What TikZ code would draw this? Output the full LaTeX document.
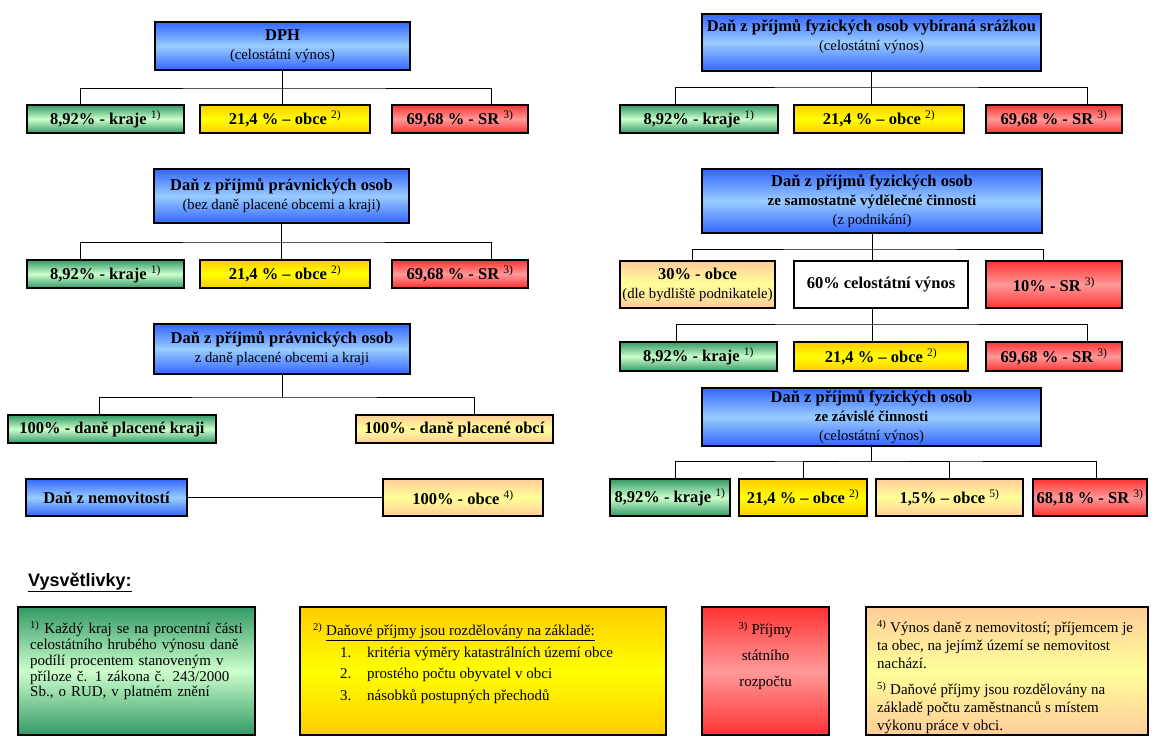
\documentclass[tikz,border=0pt]{standalone}
\usepackage{fontspec}
\setmainfont{Liberation Serif}
\setsansfont{Liberation Sans}
\usetikzlibrary{calc}

\definecolor{blueD}{HTML}{3366FF}
\definecolor{blueL}{HTML}{99CCFF}
\definecolor{greenD}{HTML}{339966}
\definecolor{greenL}{HTML}{CCFFCC}
\definecolor{yellowD}{HTML}{FFCC00}
\definecolor{yellowL}{HTML}{FFFF00}
\definecolor{redD}{HTML}{FF3333}
\definecolor{redL}{HTML}{FF9999}
\definecolor{orangeD}{HTML}{FFCC99}
\definecolor{orangeL}{HTML}{FFFF99}

\newcommand{\pozn}[1]{\textsuperscript{\mdseries#1}}
\newcommand{\podtitul}[1]{{\mdseries\fontsize{14.7}{18}\selectfont#1}}
\newcommand{\podtitulb}[1]{{\fontsize{15}{18}\selectfont#1}}

\tikzset{
    box/.style={draw, line width=1.5pt, inner sep=0pt, align=center, font=\bfseries\fontsize{16.5}{19}\selectfont},
    bluebox/.style={box, top color=blueD, bottom color=blueD, middle color=blueL},
    greenbox/.style={box, top color=greenD, bottom color=greenD, middle color=greenL},
    yellowbox/.style={box, top color=yellowD, bottom color=yellowD, middle color=yellowL},
    redbox/.style={box, top color=redD, bottom color=redD, middle color=redL},
    orangebox/.style={box, top color=orangeD, bottom color=orangeD, middle color=orangeL},
    whitebox/.style={box, fill=white},
    row/.style={minimum height=28pt},
    legtext/.style={inner sep=0pt, font=\mdseries\fontsize{15}{15.8}\selectfont},
    link/.style={line width=1pt},
}

\begin{document}
\begin{tikzpicture}[x=1pt, y=-1pt]
    \useasboundingbox[fill=white] (0,0) rectangle (1158,744);

    \node[bluebox, minimum width=255pt, minimum height=48pt] (dph) at (282.5,46) {DPH\\\podtitul{(celostátní výnos)}};
    \node[greenbox, row, minimum width=157pt] (dph-kr) at (105.5,119) {8,92\% - kraje \pozn{1)}};
    \node[yellowbox, row, minimum width=170pt] (dph-ob) at (285,119) {21,4 \% – obce \pozn{2)}};
    \node[redbox, row, minimum width=136pt] (dph-sr) at (460,119) {69,68 \% - SR \pozn{3)}};
    \coordinate (dph-j) at (282.5,88);
    \draw[link] (dph.south) -- (dph-j);
    \draw[link] ([xshift=54pt]dph-kr.north west) |- (dph-j) -| ([xshift=100pt]dph-sr.north west);
    \draw[link] (dph-j) -- (dph-j |- dph-ob.north);

    \node[bluebox, minimum width=255pt, minimum height=54pt] (ppo) at (281.5,196) {Daň z příjmů právnických osob\\\podtitul{(bez daně placené obcemi a kraji)}};
    \node[greenbox, row, minimum width=157pt] (ppo-kr) at (105.5,274) {8,92\% - kraje \pozn{1)}};
    \node[yellowbox, row, minimum width=170pt] (ppo-ob) at (285,274) {21,4 \% – obce \pozn{2)}};
    \node[redbox, row, minimum width=136pt] (ppo-sr) at (460,274) {69,68 \% - SR \pozn{3)}};
    \coordinate (ppo-j) at (281.5,242);
    \draw[link] (ppo.south) -- (ppo-j);
    \draw[link] ([xshift=54pt]ppo-kr.north west) |- (ppo-j) -| ([xshift=100pt]ppo-sr.north west);
    \draw[link] (ppo-j) -- (ppo-j |- ppo-ob.north);

    \node[bluebox, minimum width=256pt, minimum height=50pt] (ppz) at (282,349) {Daň z příjmů právnických osob\\\podtitul{z daně placené obcemi a kraji}};
    \node[greenbox, row, minimum width=208pt] (ppz-kr) at (112,429) {100\% - daně placené kraji};
    \node[orangebox, row, minimum width=197pt] (ppz-ob) at (454.5,429) {100\% - daně placené obcí};
    \coordinate (ppz-j) at (282,397);
    \draw[link] (ppz.south) -- (ppz-j);
    \draw[link] ([xshift=-13pt]ppz-kr.north) |- (ppz-j) -| ([xshift=19.5pt]ppz-ob.north);

    \node[bluebox, minimum width=161pt, minimum height=37pt] (dnem) at (106.5,497.5) {Daň z nemovitostí};
    \node[orangebox, minimum width=160pt, minimum height=37pt] (dnem-ob) at (463,497.5) {100\% - obce \pozn{4)}};
    \draw[link] (dnem) -- (dnem-ob);

    \node[bluebox, minimum width=339pt, minimum height=57pt, text depth=15pt] (srz) at (871.5,42.5) {Daň z příjmů fyzických osob vybíraná srážkou\\\podtitul{(celostátní výnos)}};
    \node[greenbox, row, minimum width=158pt] (srz-kr) at (699,119) {8,92\% - kraje \pozn{1)}};
    \node[yellowbox, row, minimum width=170pt] (srz-ob) at (879,119) {21,4 \% – obce \pozn{2)}};
    \node[redbox, row, minimum width=136pt] (srz-sr) at (1054,119) {69,68 \% - SR \pozn{3)}};
    \coordinate (srz-j) at (871.5,87);
    \draw[link] (srz.south) -- (srz-j);
    \draw[link] ([xshift=-24pt]srz-kr.north) |- (srz-j) -| ([xshift=33pt]srz-sr.north);
    \draw[link] (srz-j) -- (srz-j |- srz-ob.north);

    \node[bluebox, minimum width=340pt, minimum height=64pt] (sam) at (872,201) {Daň z příjmů fyzických osob\\\podtitulb{ze samostatně výdělečné činnosti}\\\podtitul{(z podnikání)}};
    \node[orangebox, minimum width=155pt, minimum height=47pt] (sam-ob) at (697.5,284.5) {30\% - obce\\\podtitul{(dle bydliště podnikatele)}};
    \node[whitebox, minimum width=174pt, minimum height=47pt] (sam-cv) at (881,284.5) {60\% celostátní výnos};
    \node[redbox, minimum width=136pt, minimum height=47pt] (sam-sr) at (1054,284.5) {10\% - SR \pozn{3)}};
    \coordinate (sam-j) at (872,249);
    \draw[link] (sam.south) -- (sam-j);
    \draw[link] ([xshift=-5.5pt]sam-ob.north) |- (sam-j) -| ([xshift=-11pt]sam-sr.north);
    \draw[link] (sam-j) -- (sam-j |- sam-cv.north);

    \node[greenbox, minimum width=157pt, minimum height=29pt] (cv-kr) at (698.5,356.5) {8,92\% - kraje \pozn{1)}};
    \node[yellowbox, minimum width=174pt, minimum height=29pt] (cv-ob) at (881,356.5) {21,4 \% – obce \pozn{2)}};
    \node[redbox, minimum width=136pt, minimum height=29pt] (cv-sr) at (1054,356.5) {69,68 \% - SR \pozn{3)}};
    \coordinate (cv-j) at (872,324);
    \draw[link] (cv-j |- sam-cv.south) -- (cv-j);
    \draw[link] ([xshift=-22.5pt]cv-kr.north) |- (cv-j) -| ([xshift=33pt]cv-sr.north);
    \draw[link] (cv-j) -- (cv-j |- cv-ob.north);

    \node[bluebox, minimum width=339pt, minimum height=58pt] (zav) at (871.5,417) {Daň z příjmů fyzických osob\\\podtitulb{ze závislé činnosti}\\\podtitul{(celostátní výnos)}};
    \node[greenbox, minimum width=120pt, minimum height=37pt] (zav-kr) at (670,497.5) {8,92\% - kraje \pozn{1)}};
    \node[yellowbox, minimum width=128pt, minimum height=37pt] (zav-ob) at (803,497.5) {21,4 \% – obce \pozn{2)}};
    \node[orangebox, minimum width=147pt, minimum height=37pt] (zav-ob5) at (949.5,497.5) {1,5\% – obce \pozn{5)}};
    \node[redbox, minimum width=114pt, minimum height=37pt] (zav-sr) at (1090,497.5) {68,18 \% - SR \pozn{3)}};
    \coordinate (zav-j) at (871.5,461);
    \draw[link] (zav.south) -- (zav-j);
    \draw[link] ([xshift=5pt]zav-kr.north) |- (zav-j) -| ([xshift=6pt]zav-sr.north);
    \draw[link] (zav-ob.north) |- (zav-j) -| (zav-ob5.north);

    \node[anchor=base west, inner sep=0pt, font=\sffamily\bfseries\fontsize{18}{20}\selectfont] (vysv) at (28,586) {\underline{Vysvětlivky:}};

    \node[greenbox, minimum width=237pt, minimum height=128pt] (leg-kr) at (136.5,671) {};
    \node[legtext, anchor=north west, text width=213pt] (leg-kr-t) at (30,621) {\pozn{1)} Každý kraj se na procentní části\linebreak celostátního hrubého výnosu daně\linebreak podílí procentem stanoveným v\linebreak příloze č. 1 zákona č. 243/2000\linebreak Sb., o RUD, v platném znění};

    \node[yellowbox, minimum width=366pt, minimum height=128pt] (leg-ob) at (483,671) {};
    \node[legtext, anchor=north west, align=left, font=\mdseries\fontsize{15}{21.5}\selectfont] (leg-ob-t) at (313,623) {\pozn{2)} \underline{Daňové příjmy jsou rozdělovány na základě:}\\
        \hspace*{27pt}\makebox[27pt][l]{1.}kritéria výměry katastrálních území obce\\
        \hspace*{27pt}\makebox[27pt][l]{2.}prostého počtu obyvatel v obci\\
        \hspace*{27pt}\makebox[27pt][l]{3.}násobků postupných přechodů};

    \node[redbox, minimum width=127pt, minimum height=128pt] (leg-sr) at (765.5,671) {};
    \node[legtext, anchor=north, align=center, font=\mdseries\fontsize{15}{26}\selectfont] (leg-sr-t) at (765.5,622) {\pozn{3)} Příjmy\\státního\\rozpočtu};

    \node[orangebox, minimum width=282pt, minimum height=128pt] (leg-nem) at (1007,671) {};
    \node[legtext, anchor=north west, align=left, font=\mdseries\fontsize{15}{18}\selectfont] (leg-nem-t) at (877,620) {\pozn{4)} Výnos daně z nemovitostí; příjemcem je\\ta obec, na jejímž území se nemovitost\\nachází.\\[8pt]
        \pozn{5)} Daňové příjmy jsou rozdělovány na\\základě počtu zaměstnanců s místem\\výkonu práce v obci.};
\end{tikzpicture}
\end{document}
